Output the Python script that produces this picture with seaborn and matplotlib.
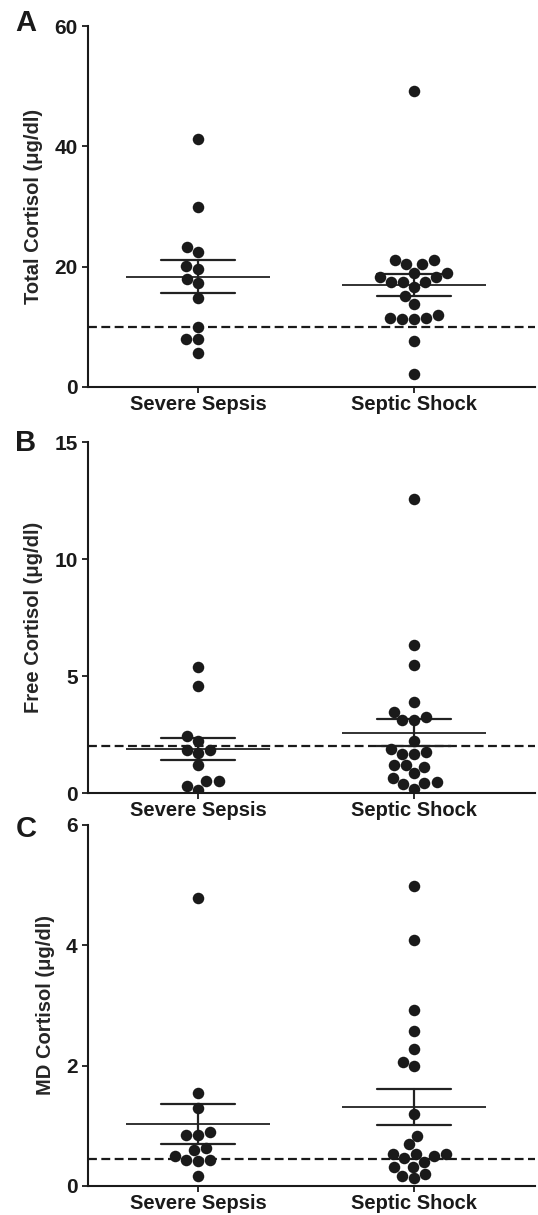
import numpy as np
import pandas as pd
import seaborn as sns
import matplotlib.pyplot as plt

categories = ['Severe Sepsis', 'Septic Shock']

# Total cortisol (ug/dl)
total_severe = [41.2, 29.9, 23.3, 22.5, 20.1, 19.6, 17.9, 17.2, 14.8, 9.9, 7.9, 7.9, 5.7]
total_shock = [49.2, 21.1, 21.1, 20.4, 20.4, 19.0, 19.0, 18.3, 18.3, 17.5, 17.5, 17.5,
               16.6, 15.1, 13.8, 11.9, 11.5, 11.5, 11.3, 11.3, 7.7, 2.2]
# Free cortisol (ug/dl)
free_severe = [5.4, 4.56, 2.42, 2.24, 1.85, 1.85, 1.71, 1.21, 0.5, 0.5, 0.31, 0.14]
free_shock = [12.58, 6.31, 5.46, 3.89, 3.45, 3.25, 3.1, 3.1, 2.21, 1.89, 1.74, 1.68, 1.68,
              1.21, 1.21, 1.11, 0.85, 0.64, 0.46, 0.43, 0.40, 0.17]
# MD cortisol (ug/dl)
md_severe = [4.79, 1.55, 1.29, 0.90, 0.84, 0.84, 0.60, 0.63, 0.50, 0.43, 0.43, 0.42, 0.17]
md_shock = [4.99, 4.09, 2.92, 2.57, 2.28, 2.06, 2.0, 1.2, 0.83, 0.69, 0.53, 0.53, 0.53,
            0.49, 0.46, 0.39, 0.32, 0.31, 0.20, 0.17, 0.13]

panels = ['A', 'B', 'C']
ylabels = ['Total Cortisol (\u03bcg/dl)', 'Free Cortisol (\u03bcg/dl)', 'MD Cortisol (\u03bcg/dl)']
yticks = [[0, 20, 40, 60], [0, 5, 10, 15], [0, 2, 4, 6]]
thresholds = [10, 2, 0.45]

sns.set_style('ticks')
plt.rcParams['font.family'] = ['Liberation Sans', 'DejaVu Sans']
plt.rcParams['font.weight'] = 'bold'
plt.rcParams['axes.labelweight'] = 'bold'

fig = plt.figure(figsize=(5.38, 12.15), dpi=100)
# axes boxes (left, bottom, width, height)
boxes = [[0.1636, 0.6815, 0.831, 0.2971],
         [0.1636, 0.3473, 0.831, 0.2889],
         [0.1636, 0.0239, 0.831, 0.2971]]
letter_y = [23, 443, 829]

groups = [(total_severe, total_shock), (free_severe, free_shock), (md_severe, md_shock)]

for i, (sev, sho) in enumerate(groups):
    ax = fig.add_axes(boxes[i])
    df = pd.DataFrame({'group': [categories[0]] * len(sev) + [categories[1]] * len(sho),
                       'value': sev + sho})
    sns.swarmplot(data=df, x='group', y='value', order=categories, color='#1a1a1a',
                  size=8.3, linewidth=0, ax=ax, warn_thresh=1)
    sns.pointplot(data=df, x='group', y='value', order=categories, errorbar='se',
                  capsize=0.34, linestyle='none', marker='_', markersize=104,
                  markeredgewidth=1.3, color='#222222', err_kws={'linewidth': 1.6}, ax=ax)
    ax.axhline(thresholds[i], color='#1a1a1a', lw=1.6, ls=(0, (4, 2)), zorder=0.5)
    ax.set_xlim(-0.51, 1.56)
    ax.set_ylim(yticks[i][0], yticks[i][-1])
    ax.set_yticks(yticks[i])
    ax.set_xlabel('')
    ax.set_ylabel(ylabels[i], fontsize=14.5, fontweight='bold', labelpad=8)
    ax.tick_params(axis='both', width=1.3, length=4, colors='#1a1a1a')
    ax.tick_params(axis='y', labelsize=15)
    ax.tick_params(axis='x', labelsize=14.5, pad=2)
    for sp in ['left', 'bottom']:
        ax.spines[sp].set_linewidth(1.5)
        ax.spines[sp].set_color('#1a1a1a')
    sns.despine(ax=ax)
    fig.text(26 / 538, 1 - letter_y[i] / 1215, panels[i], fontsize=21, fontweight='bold',
             ha='center', va='center', color='#1a1a1a')

fig.savefig('out.png', dpi=100)
